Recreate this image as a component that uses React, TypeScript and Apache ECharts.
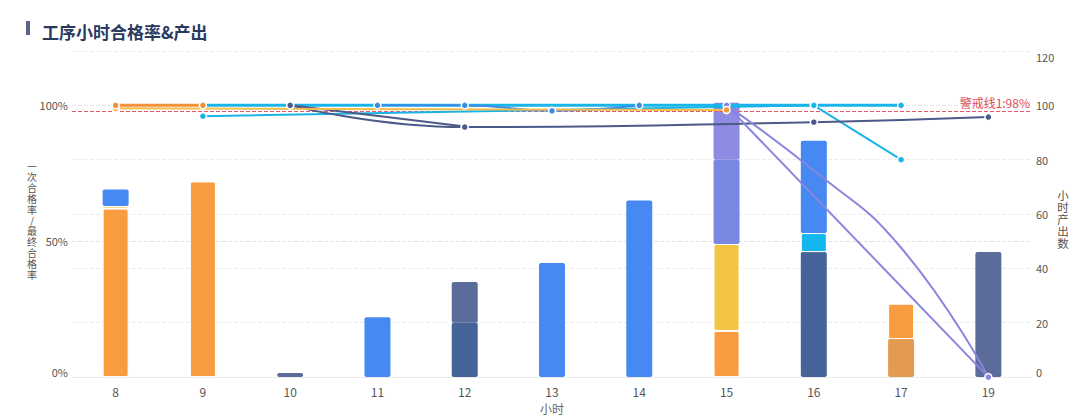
import React, { useEffect, useRef } from "react";
import * as echarts from "echarts";

// ---- categories ----
const hours = ["8", "9", "10", "11", "12", "13", "14", "15", "16", "17", "19"];

// ---- hourly output (right axis), stacked segments ----
const orangeDeepOut = [null, null, null, null, null, null, null, null, null, 14, null];
const orangeOut = [62, 72, null, null, null, null, null, 17, null, 13, null];
const yellowOut = [1, null, null, null, null, null, null, 32, null, null, null];
const navyDeepOut = [null, null, null, null, 20, null, null, null, 46, null, null];
const navyOut = [null, null, 1.5, null, 15, null, null, null, null, null, 46];
const cyanOut = [null, null, null, null, null, null, null, null, 7, null, null];
const blueOut = [6, null, null, 22, null, 42, 65, null, 34, null, null];
const purpleDeepOut = [null, null, null, null, null, null, null, 31, null, null, null];
const purpleOut = [null, null, null, null, null, null, null, 21, null, null, null];

// ---- pass rates % (left axis) ----
const orangeFirst = [100, 100, null, null, null, null, null, null, null, null, null];
const orangeFinal = [98.9, null, null, null, null, null, null, 98.3, null, null, null];
const cyanFirst = [null, 100, null, null, null, null, null, null, 100, 100, null];
const cyanFinal = [null, 96, null, null, null, null, null, null, 100, 80, null];
const blueFirst = [null, null, null, 100, 100, 98, 100, null, null, null, null];
const navyFirst = [null, null, 100, null, 92, null, null, null, 93.8, null, 95.7];
const navyFinal = [null, null, 100, null, 92.2, null, null, null, null, null, null];
const purpleFirst = [null, null, null, null, null, null, null, 100, null, null, 0];
const purpleFinal = [null, null, null, null, null, null, null, 100, 76, 47.6, 0];

// ---- axis ticks / names / warning ----
const rightAxisMax = 120;
const rightAxisStep = 20;
const leftAxisMax = 120;
const leftAxisStep = 50;
const leftAxisName = "一次合格率/最终合格率";
const rightAxisName = "小时产出数";
const xAxisName = "小时";
const warnValue = 98;
const warnLabel = "警戒线1:98%";

const FONT = "'Noto Sans CJK SC', 'Noto Sans', sans-serif";

function barSeries(name: string, data: (number | null)[], color: string, bordered: boolean) {
  return {
    name,
    type: "bar",
    stack: "out",
    yAxisIndex: 1,
    barWidth: 26,
    data,
    itemStyle: {
      color,
      borderRadius: 2,
      borderColor: bordered ? "#ffffff" : color,
      borderWidth: bordered ? 1 : 0,
    },
    z: 2,
  };
}

function lineSeries(
  name: string,
  data: (number | null)[],
  color: string,
  opts: { width?: number; smooth?: boolean; showSymbol?: boolean; dot?: string } = {}
) {
  return {
    name,
    type: "line",
    yAxisIndex: 0,
    data,
    connectNulls: true,
    smooth: opts.smooth ?? false,
    showSymbol: opts.showSymbol ?? true,
    symbol: "circle",
    symbolSize: 7,
    lineStyle: { color, width: opts.width ?? 2 },
    itemStyle: { color: opts.dot ?? color, borderColor: "#ffffff", borderWidth: 1.5 },
    z: 5,
  };
}

export default function App() {
  const ref = useRef<HTMLDivElement>(null);
  useEffect(() => {
    document.body.style.margin = "0";
    const chart = echarts.init(ref.current!, undefined, { renderer: "svg" });
    const series: any[] = [
      barSeries("orangeDeep", orangeDeepOut, "#e29b50", false),
      barSeries("orange", orangeOut, "#f99c3f", true),
      barSeries("yellow", yellowOut, "#f1c443", true),
      barSeries("navyDeep", navyDeepOut, "#44649a", false),
      barSeries("navy", navyOut, "#5b6b9a", false),
      barSeries("cyan", cyanOut, "#14b6ef", true),
      barSeries("blue", blueOut, "#4689f2", false),
      barSeries("purpleDeep", purpleDeepOut, "#7b88e2", false),
      barSeries("purple", purpleOut, "#8d8be2", false),
      lineSeries("cyanFirst", cyanFirst, "#1ab4e8", { width: 3 }),
      lineSeries("cyanFinal", cyanFinal, "#1ab4e8", { width: 2 }),
      lineSeries("navyFinal", navyFinal, "#4b5a88", { width: 2 }),
      lineSeries("navyFirst", navyFirst, "#4b5a88", { width: 2, smooth: true }),
      lineSeries("purpleFinal", purpleFinal, "#8a85de", { width: 2, smooth: true, showSymbol: false }),
      lineSeries("purpleFirst", purpleFirst, "#8a85de", { width: 2 }),
      lineSeries("blueFirst", blueFirst, "#3d8de6", { width: 2, smooth: true }),
      {
        ...lineSeries("orangeFinal", orangeFinal, "#f2bd48", { width: 2, dot: "#f39a3c" }),
        markLine: {
          silent: true,
          symbol: "none",
          lineStyle: { color: "#e8566c", type: "dashed", width: 1 },
          label: {
            show: true,
            position: "insideEndTop",
            formatter: warnLabel,
            color: "#dc4d5a",
            fontSize: 12,
            fontFamily: FONT,
            distance: 2,
          },
          data: [{ yAxis: warnValue }],
        },
      },
      lineSeries("orangeFirst", orangeFirst, "#f3923c", { width: 3 }),
    ];

    chart.setOption({
      animation: false,
      backgroundColor: "#ffffff",
      textStyle: { fontFamily: FONT },
      title: {
        text: "工序小时合格率&产出",
        left: 37,
        top: 18,
        textStyle: { fontSize: 17, fontWeight: "bold", color: "#2a3a5e", fontFamily: FONT },
      },
      graphic: [
        { type: "rect", left: 26, top: 21, shape: { width: 4, height: 14 }, style: { fill: "#5a6782" } },
        {
          type: "text",
          x: 32,
          y: 220,
          style: {
            text: leftAxisName.split("").join("\n"),
            fontSize: 10,
            lineHeight: 10.8,
            fontFamily: FONT,
            fill: "#555",
            align: "center",
            verticalAlign: "middle",
          },
        },
        {
          type: "text",
          x: 1063,
          y: 219,
          style: {
            text: rightAxisName.split("").join("\n"),
            fontSize: 11.5,
            lineHeight: 12.2,
            fontFamily: FONT,
            fill: "#555",
            align: "center",
            verticalAlign: "middle",
          },
        },
      ],
      grid: { left: 72, right: 48, top: 51, bottom: 36 },
      xAxis: {
        type: "category",
        data: hours,
        name: xAxisName,
        nameLocation: "middle",
        nameGap: 22,
        nameTextStyle: { color: "#666", fontSize: 12 },
        axisTick: { show: false },
        axisLine: { lineStyle: { color: "#ececec" } },
        axisLabel: { color: "#555", fontSize: 12, margin: 8 },
      },
      yAxis: [
        {
          type: "value",
          min: 0,
          max: leftAxisMax,
          interval: leftAxisStep,
          axisLine: { show: false },
          axisTick: { show: false },
          axisLabel: {
            color: "#555",
            fontSize: 11,
            margin: 4,
            formatter: (v: number) => (v > 100 ? "" : v + "%"),
            verticalAlignMinLabel: "bottom",
          },
          splitLine: { lineStyle: { color: "#e3e3e3", type: "dashed" } },
        },
        {
          type: "value",
          min: 0,
          max: rightAxisMax,
          interval: rightAxisStep,
          axisLine: { show: false },
          axisTick: { show: false },
          axisLabel: {
            color: "#555",
            fontSize: 11,
            margin: 4,
            verticalAlignMinLabel: "bottom",
            verticalAlignMaxLabel: "top",
          },
          splitLine: { lineStyle: { color: "#ececec", type: "dashed" } },
        },
      ],
      series,
    });
    return () => chart.dispose();
  }, []);
  return <div ref={ref} style={{ width: 1080, height: 419 }} />;
}
